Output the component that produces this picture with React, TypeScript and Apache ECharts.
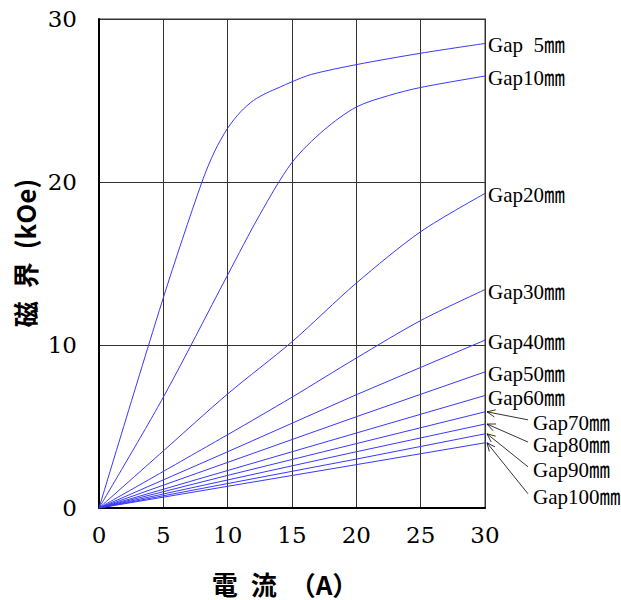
import React, { useEffect, useRef } from 'react';
import * as echarts from 'echarts';

// Current (A) and field (kOe) readings per gap
const GAP_NAMES = ['Gap  5㎜', 'Gap10㎜', 'Gap20㎜', 'Gap30㎜', 'Gap40㎜', 'Gap50㎜', 'Gap60㎜', 'Gap70㎜', 'Gap80㎜', 'Gap90㎜', 'Gap100㎜'];

const I_GAP5 = [0, 5, 8, 9, 10, 11, 12, 13, 14, 15, 16.5, 20, 25, 30];
const B_GAP5 = [0, 12.9, 20.0, 21.9, 23.3, 24.3, 25.0, 25.45, 25.8, 26.15, 26.6, 27.2, 27.9, 28.5];

const I_GAP10 = [0, 5, 10, 12.5, 15, 17.5, 20, 22.5, 25, 30];
const B_GAP10 = [0, 6.8, 14.3, 18.0, 21.2, 23.2, 24.6, 25.3, 25.8, 26.5];

const I_GAP20 = [0, 5, 10, 15, 20, 25, 30];
const B_GAP20 = [0, 3.5, 7.0, 10.2, 13.8, 16.95, 19.3];

const I_GAP30 = [0, 10, 15, 20, 25, 30];
const B_GAP30 = [0, 4.5, 6.8, 9.2, 11.5, 13.4];

const I_LIN = [0, 10, 20, 30];
const B_GAP40 = [0, 3.45, 6.95, 10.3];
const B_GAP50 = [0, 2.8, 5.6, 8.35];
const B_GAP60 = [0, 2.3, 4.6, 6.9];
const B_GAP70 = [0, 2.0, 3.95, 5.9];
const B_GAP80 = [0, 1.72, 3.45, 5.15];
const B_GAP90 = [0, 1.5, 3.0, 4.55];
const B_GAP100 = [0, 1.33, 2.66, 4.0];

const X_TICKS = [0, 5, 10, 15, 20, 25, 30];
const Y_TICKS = [0, 10, 20, 30];

const X_NAME = '電\u2002流\u2002（A）';
const Y_NAME = '磁\u2002界\u2002(kOe)';

const CURVES: [number[], number[]][] = [
  [I_GAP5, B_GAP5],
  [I_GAP10, B_GAP10],
  [I_GAP20, B_GAP20],
  [I_GAP30, B_GAP30],
  [I_LIN, B_GAP40],
  [I_LIN, B_GAP50],
  [I_LIN, B_GAP60],
  [I_LIN, B_GAP70],
  [I_LIN, B_GAP80],
  [I_LIN, B_GAP90],
  [I_LIN, B_GAP100],
];

// label vertical offsets (px) for the four arrow-annotated labels
const ARROW_LABEL_OFFSETS = [11, 21, 36, 54];

export default function App() {
  const ref = useRef<HTMLDivElement>(null);
  useEffect(() => {
    if (!ref.current) return;
    const chart = echarts.init(ref.current, undefined, { renderer: 'svg' });
    const series = CURVES.map(([xs, ys], i) => ({
      name: GAP_NAMES[i],
      type: 'line',
      data: xs.map((x, j) => [x, ys[j]]),
      showSymbol: false,
      symbol: 'none',
      smooth: i < 4 ? 0.3 : false,
      lineStyle: { color: '#3838ff', width: 1 },
      z: 3,
    }));
    chart.setOption({
      animation: false,
      grid: {
        left: 99, right: 136, top: 19, bottom: 92,
        show: true, borderColor: '#9a9a9a', borderWidth: 2,
      },
      xAxis: {
        type: 'value', min: X_TICKS[0], max: X_TICKS[X_TICKS.length - 1], interval: 5,
        axisLine: { show: true, onZero: false, lineStyle: { color: '#000', width: 2 } },
        axisTick: { show: false },
        axisLabel: { fontFamily: 'DejaVu Serif', fontSize: 23, color: '#000', margin: 15 },
        splitLine: { show: true, lineStyle: { color: '#333', width: 1 } },
      },
      yAxis: {
        type: 'value', min: Y_TICKS[0], max: Y_TICKS[Y_TICKS.length - 1], interval: 10,
        axisLine: { show: true, onZero: false, lineStyle: { color: '#000', width: 2 } },
        axisTick: { show: false },
        axisLabel: { fontFamily: 'DejaVu Serif', fontSize: 23, color: '#000', margin: 22 },
        splitLine: { show: true, lineStyle: { color: '#333', width: 1 } },
      },
      series,
    });

    const graphics: any[] = [];
    const labelFont = { fontFamily: '"Liberation Serif", "Noto Sans CJK JP"', fontSize: 21 };
    CURVES.forEach(([xs, ys], i) => {
      const end = chart.convertToPixel({ xAxisIndex: 0, yAxisIndex: 0 }, [xs[xs.length - 1], ys[ys.length - 1]]) as number[];
      if (i < 7) {
        graphics.push({
          type: 'text', x: end[0] + 3, y: end[1] + 2, z: 10,
          style: { text: GAP_NAMES[i], ...labelFont, fill: '#000', align: 'left', verticalAlign: 'middle', textAlign: 'left', textVerticalAlign: 'middle' },
        });
      } else {
        const lx = 533;
        const ly = end[1] + ARROW_LABEL_OFFSETS[i - 7];
        graphics.push({
          type: 'text', x: lx, y: ly, z: 10,
          style: { text: GAP_NAMES[i], ...labelFont, fill: '#000', align: 'left', verticalAlign: 'middle', textAlign: 'left', textVerticalAlign: 'middle' },
        });
        const sx = lx - 5, sy = ly - 3;
        const tx = end[0] + 2, ty = end[1];
        graphics.push({ type: 'line', z: 10, shape: { x1: sx, y1: sy, x2: tx, y2: ty }, style: { stroke: '#000', lineWidth: 0.8 } });
        const ang = Math.atan2(sy - ty, sx - tx);
        const len = 9, spread = 0.42;
        const p1 = [tx + len * Math.cos(ang + spread), ty + len * Math.sin(ang + spread)];
        const p2 = [tx + len * Math.cos(ang - spread), ty + len * Math.sin(ang - spread)];
        graphics.push({ type: 'polyline', z: 10, shape: { points: [p1, [tx, ty], p2] }, style: { stroke: '#000', lineWidth: 0.8, fill: null } });
      }
    });
    graphics.push({
      type: 'text', x: 285, y: 583, z: 10,
      style: { text: X_NAME, fontFamily: '"Noto Sans CJK JP"', fontWeight: 'bold', fontSize: 26, fill: '#000', align: 'center', verticalAlign: 'middle', textAlign: 'center', textVerticalAlign: 'middle' },
    });
    graphics.push({
      type: 'text', x: 24, y: 253, rotation: Math.PI / 2, z: 10,
      style: { text: Y_NAME, fontFamily: '"Noto Sans CJK JP"', fontWeight: 'bold', fontSize: 26, fill: '#000', align: 'center', verticalAlign: 'middle', textAlign: 'center', textVerticalAlign: 'middle' },
    });
    chart.setOption({ graphic: graphics });

    return () => chart.dispose();
  }, []);
  return <div ref={ref} style={{ position: 'absolute', left: 0, top: 0, width: 621, height: 600 }} />;
}
